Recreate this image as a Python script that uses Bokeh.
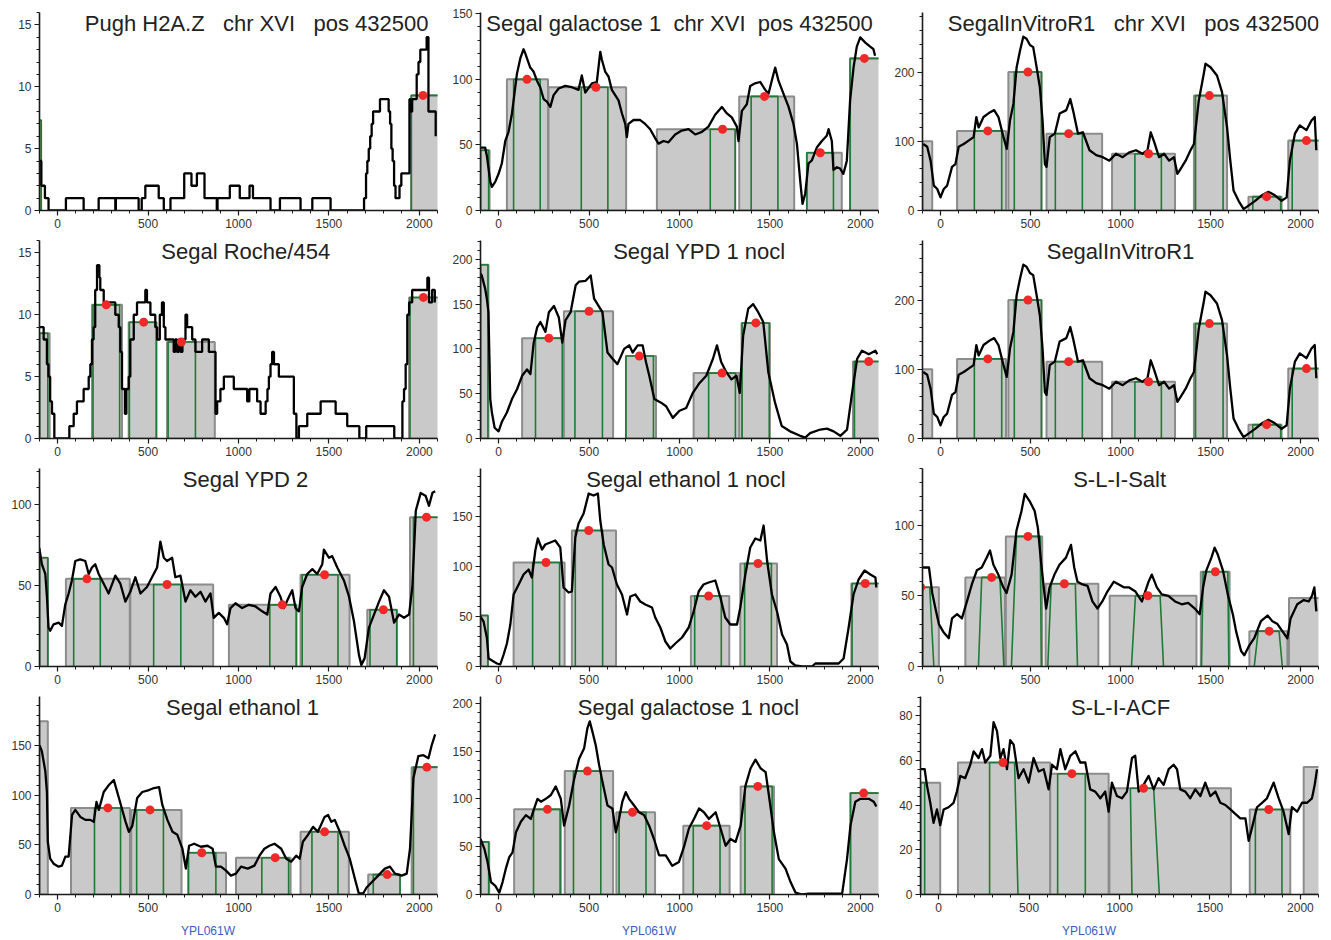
from bokeh.plotting import figure
from bokeh.models import Range1d, SingleIntervalTicker, Label, Div
from bokeh.layouts import column, row
from bokeh.embed import file_html
from bokeh.resources import INLINE

# ---------------- data ----------------
GAP = " \u00a0 "
GAP2 = " \u00a0"
TITLES = ["Pugh H2A.Z" + GAP + "chr XVI" + GAP + "pos 432500",
          "Segal galactose 1" + GAP2 + "chr XVI" + GAP2 + "pos 432500",
          "SegalInVitroR1" + GAP + "chr XVI" + GAP + "pos 432500",
          "Segal Roche/454", "Segal YPD 1 nocl", "SegalInVitroR1",
          "Segal YPD 2", "Segal ethanol 1 nocl", "S-L-I-Salt",
          "Segal ethanol 1", "Segal galactose 1 nocl", "S-L-I-ACF"]
GENE_LABEL = "YPL061W"
X_TICK_STEP = 500
Y_MAX = [16, 151, 286, 16, 221, 286, 122, 198, 140, 199, 207, 88.5]
Y_TICK_STEP = [5, 50, 100, 5, 50, 100, 50, 50, 50, 50, 50, 20]

# Pugh H2A.Z (step trace)
P1_X = [-100, -90, -70, -50, 46, 144, 227, 319, 322, 448, 465, 485, 559, 587, 624, 697, 700, 740, 770, 812,
        880, 884, 952, 1007, 1061, 1080, 1177, 1229, 1343, 1408, 1509, 1694, 1705, 1712, 1720, 1728, 1736,
        1744, 1750, 1782, 1830, 1838, 1845, 1852, 1860, 1868, 1890, 1900, 1945, 1950, 1960, 1985, 1995, 2005,
        2040, 2050, 2090]
P1_Y = [4, 2, 1, 0, 1, 0, 1, 0, 1, 0, 1, 2, 1, 0, 1, 1, 3, 2, 3, 1,
        0, 1, 2, 1, 2, 1, 0, 1, 0, 1, 0, 1, 3, 4, 5, 6, 7,
        8, 8, 9, 8, 7, 5, 4, 2, 1, 2, 3, 9, 8, 9, 11, 12, 13,
        14, 8, 6]
P1_BAR_L = [1955]; P1_BAR_R = [2110]; P1_BAR_H = [9.3]
P1_GRN_L = [-100, 1955]; P1_GRN_R = [-90, 2110]; P1_GRN_H = [7.3, 9.3]
P1_DOT_X = [2020]; P1_DOT_Y = [9.3]

# Segal galactose 1
P2_X = [-100, -74, -64, -46, -37, -18, 0, 18, 37, 55, 74, 83, 101, 120, 138, 147, 157, 175, 193, 212,
        230, 249, 267, 286, 304, 332, 368, 405, 442, 460, 479, 516, 543, 562, 571, 589, 608, 626, 663, 682,
        700, 709, 718, 746, 783, 810, 838, 866, 884, 912, 939, 976, 1013, 1050, 1087, 1124, 1160, 1197, 1234, 1262,
        1289, 1317, 1326, 1345, 1372, 1391, 1418, 1446, 1474, 1492, 1510, 1529, 1547, 1575, 1603, 1630, 1649, 1667, 1680, 1695,
        1713, 1731, 1759, 1787, 1814, 1824, 1842, 1851, 1870, 1888, 1906, 1925, 1943, 1962, 1980, 1999, 2027, 2054, 2072, 2081]
P2_Y = [48, 48, 41, 22, 18, 22, 28, 36, 53, 60, 74, 84, 104, 116, 123, 120, 116, 109, 106, 99,
        94, 85, 83, 79, 88, 93, 95, 94, 92, 103, 90, 97, 98, 121, 115, 106, 102, 92, 84, 74,
        66, 56, 66, 69, 69, 66, 62, 55, 51, 53, 52, 58, 61, 62, 58, 60, 64, 73, 79, 74,
        71, 64, 53, 76, 81, 95, 97, 98, 92, 89, 99, 109, 99, 89, 79, 66, 51, 23, 5, 13,
        36, 38, 48, 53, 57, 62, 53, 31, 33, 32, 28, 38, 84, 109, 125, 132, 128, 125, 123, 118]
P2_BAR_L = [-100, 46, 276, 875, 1330, 1704, 1943]
P2_BAR_R = [-50, 273, 705, 1308, 1634, 1897, 2110]
P2_BAR_H = [46, 100, 94, 62, 87, 44, 116]
P2_GRN_L = [-100, 83, 457, 1170, 1396, 1704, 1943]
P2_GRN_R = [-55, 230, 604, 1308, 1544, 1851, 2110]
P2_GRN_H = [46, 100, 94, 62, 87, 44, 116]
P2_DOT_X = [157, 538, 1238, 1470, 1778, 2022]
P2_DOT_Y = [100, 94, 62, 87, 44, 116]

# SegalInVitroR1 (shown twice)
P3_X = [-96, -74, -55, -37, -18, 0, 18, 37, 64, 83, 101, 129, 156, 184, 199, 212, 239, 276, 298, 322,
        350, 368, 386, 405, 423, 442, 460, 478, 497, 515, 534, 552, 567, 580, 589, 607, 635, 662, 699, 721,
        736, 764, 791, 828, 865, 902, 938, 975, 1012, 1049, 1086, 1122, 1150, 1168, 1187, 1214, 1242, 1270, 1297, 1316,
        1334, 1362, 1389, 1408, 1435, 1463, 1472, 1500, 1536, 1564, 1592, 1610, 1628, 1656, 1684, 1711, 1748, 1785, 1822, 1858,
        1895, 1923, 1941, 1969, 1996, 2033, 2061, 2079, 2088]
P3_Y = [96, 92, 72, 36, 31, 19, 31, 36, 63, 67, 92, 96, 101, 106, 135, 120, 135, 142, 145, 135,
        106, 89, 130, 154, 207, 231, 251, 248, 239, 236, 207, 178, 130, 67, 63, 106, 111, 140, 145, 161,
        145, 111, 113, 87, 80, 77, 72, 82, 77, 84, 87, 82, 87, 113, 99, 77, 82, 72, 77, 53,
        60, 72, 87, 96, 159, 198, 212, 207, 195, 171, 120, 72, 29, 14, 2, 7, 14, 22, 27, 22,
        14, 19, 72, 111, 123, 116, 130, 135, 87]
P3_BAR_L = [-100, 92, 377, 589, 953, 1408, 1711, 1932]
P3_BAR_R = [-46, 364, 561, 898, 1303, 1592, 1895, 2110]
P3_BAR_H = [100, 115, 200, 111, 82, 166, 20, 101]
P3_GRN_L = [188, 410, 638, 1080, 1417, 1735, 1954]
P3_GRN_R = [340, 561, 788, 1227, 1570, 1890, 2110]
P3_GRN_H = [115, 200, 111, 82, 166, 20, 101]
P3_DOT_X = [263, 486, 712, 1156, 1494, 1812, 2033]
P3_DOT_Y = [115, 200, 111, 82, 166, 20, 101]

# Segal Roche/454 (step trace)
P4_X = [-100, -77, -59, -50, -41, -31, -18, 65, 89, 107, 144, 172, 181, 190, 199, 208, 218, 231, 236, 255,
        319, 338, 347, 356, 372, 380, 393, 402, 421, 439, 485, 494, 513, 540, 550, 565, 577, 587, 596, 642,
        650, 660, 670, 680, 690, 707, 716, 744, 762, 799, 836, 873, 882, 900, 919, 974, 1048, 1060, 1103, 1122,
        1150, 1160, 1168, 1177, 1186, 1196, 1223, 1306, 1320, 1334, 1380, 1454, 1537, 1601, 1668, 1706, 1861, 1906, 1915, 1924,
        1933, 1943, 1960, 2044, 2053, 2070, 2085]
P4_Y = [9, 8, 6, 5, 3, 2, 0, 1, 2, 3, 4, 5, 6, 8, 9, 12, 14, 13, 12, 11,
        10, 9, 7, 4, 2, 4, 5, 8, 10, 11, 12, 11, 10, 9, 8, 10, 11, 9, 8, 7,
        8, 7, 8, 7, 8, 10, 9, 8, 7, 8, 7, 2, 3, 4, 5, 4, 3, 4, 3, 2,
        3, 4, 5, 6, 7, 6, 5, 2, 0, 1, 2, 3, 2, 1, 0, 1, 0, 3, 4, 6,
        10, 11, 12, 13, 11, 12, 11]
P4_BAR_L = [-100, 190, 393, 605, 1943]
P4_BAR_R = [-44, 356, 546, 869, 2110]
P4_BAR_H = [8.5, 10.8, 9.4, 7.8, 11.4]
P4_GRN_L = [-100, 196, 397, 611, 1948]
P4_GRN_R = [-54, 343, 546, 762, 2110]
P4_GRN_H = [8.5, 10.8, 9.4, 7.8, 11.4]
P4_DOT_X = [269, 476, 684, 2022]
P4_DOT_Y = [10.8, 9.4, 7.8, 11.4]

# Segal YPD 1 nocl
P5_X = [-100, -93, -74, -65, -56, -46, -37, -22, 0, 19, 46, 74, 102, 130, 157, 176, 194, 213, 231, 259,
        278, 306, 333, 352, 370, 398, 426, 444, 481, 509, 528, 556, 574, 602, 630, 657, 694, 722, 741, 769,
        796, 815, 833, 861, 898, 926, 963, 1000, 1037, 1074, 1111, 1148, 1185, 1207, 1231, 1259, 1287, 1315, 1333, 1352,
        1380, 1407, 1435, 1463, 1491, 1528, 1565, 1611, 1667, 1695, 1722, 1778, 1815, 1852, 1889, 1926, 1954, 1982, 2009, 2046,
        2083, 2093]
P5_Y = [184, 182, 167, 156, 141, 44, 29, 12, 8, 19, 29, 44, 55, 70, 77, 72, 107, 124, 130, 119,
        141, 148, 135, 107, 132, 141, 171, 175, 176, 182, 156, 147, 141, 96, 89, 83, 100, 104, 96, 104,
        104, 85, 70, 44, 40, 36, 23, 31, 34, 51, 62, 70, 89, 104, 85, 74, 66, 70, 51, 115,
        145, 150, 141, 130, 74, 40, 14, 8, 3, 1, 6, 10, 11, 8, 3, 10, 51, 89, 98, 94,
        98, 94]
P5_BAR_L = [-100, 130, 361, 704, 1078, 1343, 1959]
P5_BAR_R = [-56, 361, 633, 870, 1330, 1500, 2110]
P5_BAR_H = [194, 112, 142, 92, 73, 129, 86]
P5_GRN_L = [-100, 204, 422, 704, 1161, 1346, 1967]
P5_GRN_R = [-59, 352, 574, 856, 1309, 1496, 2110]
P5_GRN_H = [194, 112, 142, 92, 73, 129, 86]
P5_DOT_X = [278, 500, 778, 1235, 1422, 2046]
P5_DOT_Y = [112, 142, 92, 73, 129, 86]

# Segal YPD 2
P7_X = [-101, -87, -68, -59, -50, -41, -22, 6, 24, 42, 61, 79, 98, 125, 153, 172, 190, 208, 227, 255,
        282, 319, 347, 375, 402, 430, 458, 494, 522, 550, 568, 587, 605, 633, 651, 679, 707, 734, 762, 790,
        817, 845, 863, 891, 919, 937, 956, 983, 1020, 1057, 1094, 1131, 1159, 1177, 1205, 1232, 1251, 1279, 1297, 1315,
        1334, 1352, 1380, 1408, 1435, 1463, 1472, 1500, 1518, 1546, 1583, 1611, 1638, 1666, 1679, 1697, 1721, 1749, 1777, 1804,
        1832, 1860, 1887, 1915, 1943, 1961, 1980, 2007, 2035, 2053, 2072, 2087]
P7_Y = [73, 63, 57, 43, 24, 22, 26, 27, 25, 38, 45, 53, 65, 66, 65, 57, 61, 63, 57, 51,
        45, 56, 51, 40, 46, 55, 45, 49, 55, 61, 77, 67, 65, 67, 55, 56, 40, 47, 43, 46,
        40, 45, 30, 33, 30, 26, 36, 39, 36, 38, 37, 34, 32, 45, 49, 43, 36, 43, 47, 36,
        34, 49, 57, 60, 57, 63, 72, 67, 68, 61, 53, 43, 28, 7, 1, 5, 24, 32, 40, 47,
        43, 27, 32, 30, 32, 49, 96, 107, 105, 99, 107, 108]
P7_BAR_L = [-100, 46, 402, 947, 1343, 1712, 1948]
P7_BAR_R = [-54, 399, 860, 1321, 1614, 1875, 2110]
P7_BAR_H = [67, 54, 50.5, 38, 56.5, 35, 92]
P7_GRN_L = [-100, 89, 531, 1173, 1352, 1727, 1967]
P7_GRN_R = [-54, 236, 681, 1319, 1550, 1875, 2110]
P7_GRN_H = [67, 54, 50.5, 38, 56.5, 35, 92]
P7_DOT_X = [162, 605, 1242, 1476, 1801, 2039]
P7_DOT_Y = [54, 50.5, 38, 56.5, 35, 92]

# Segal ethanol 1 nocl
P8_X = [-101, -83, -65, -55, -37, -9, 9, 28, 46, 65, 83, 111, 138, 166, 184, 203, 217, 240, 258, 286,
        313, 341, 359, 387, 405, 424, 442, 470, 498, 525, 549, 562, 581, 608, 627, 654, 682, 710, 728, 756,
        783, 811, 848, 866, 894, 922, 949, 977, 1014, 1051, 1078, 1106, 1133, 1161, 1198, 1226, 1253, 1281, 1318, 1336,
        1364, 1391, 1419, 1447, 1465, 1484, 1511, 1539, 1567, 1594, 1613, 1640, 1677, 1732, 1751, 1880, 1907, 1935, 1962, 1990,
        2023, 2055, 2083, 2088]
P8_Y = [50, 45, 29, 8, 6, 3, 2, 12, 23, 42, 72, 82, 92, 97, 89, 116, 128, 117, 122, 124,
        126, 119, 79, 74, 75, 129, 143, 153, 173, 171, 173, 146, 122, 102, 99, 82, 72, 52, 70, 72,
        65, 62, 59, 49, 39, 25, 18, 23, 29, 39, 55, 75, 82, 84, 86, 69, 49, 42, 42, 59,
        92, 119, 128, 126, 141, 106, 72, 55, 32, 22, 5, 1, 0, 0, 3, 3, 8, 39, 72, 87,
        96, 92, 89, 79]
P8_BAR_L = [-100, 83, 405, 1063, 1336, 1950]
P8_BAR_R = [-59, 365, 649, 1275, 1539, 2110]
P8_BAR_H = [51, 104, 136, 70.5, 103, 83]
P8_GRN_L = [-100, 188, 424, 1084, 1360, 1954]
P8_GRN_R = [-59, 337, 575, 1231, 1508, 2110]
P8_GRN_H = [51, 104, 136, 70.5, 103, 83]
P8_DOT_X = [262, 498, 1161, 1434, 2027]
P8_DOT_Y = [104, 136, 70.5, 103, 83]

# S-L-I-Salt
P9_X = [-100, -64, -46, -28, -9, 18, 46, 64, 92, 119, 147, 174, 202, 229, 257, 275, 294, 321, 349, 367,
        395, 422, 450, 468, 495, 523, 541, 560, 578, 587, 606, 633, 661, 697, 725, 743, 761, 789, 817, 844,
        872, 899, 927, 963, 991, 1018, 1046, 1083, 1119, 1156, 1174, 1202, 1229, 1266, 1303, 1340, 1376, 1413, 1440, 1459,
        1477, 1505, 1523, 1541, 1569, 1596, 1624, 1642, 1670, 1688, 1716, 1743, 1780, 1817, 1844, 1872, 1899, 1927, 1945, 1982,
        2018, 2046, 2064, 2077, 2088]
P9_Y = [70, 70, 52, 41, 30, 24, 20, 34, 37, 34, 46, 58, 68, 70, 77, 82, 72, 65, 56, 52,
        65, 96, 110, 122, 117, 110, 98, 72, 51, 41, 56, 65, 72, 77, 86, 70, 60, 58, 57, 46,
        41, 46, 53, 60, 58, 56, 56, 53, 46, 60, 65, 56, 51, 50, 46, 44, 45, 41, 37, 56,
        68, 77, 84, 79, 68, 51, 37, 25, 11, 8, 15, 20, 32, 36, 32, 30, 25, 20, 34, 44,
        47, 46, 50, 56, 39]
P9_BAR_L = [-100, 138, 363, 584, 940, 1446, 1716, 1936]
P9_BAR_R = [-9, 358, 565, 877, 1422, 1606, 1927, 2110]
P9_BAR_H = [56, 63, 92, 58.5, 50, 67, 25, 48.5]
P9_GRN_L = [-100, 211, 394, 596, 1061, 1450, 1743]
P9_GRN_LT = [-100, 229, 422, 615, 1083, 1459, 1765]
P9_GRN_RT = [-60, 330, 554, 749, 1220, 1596, 1881]
P9_GRN_R = [-37, 352, 560, 761, 1239, 1602, 1899]
P9_GRN_H = [56, 63, 92, 58.5, 50, 67, 25]
P9_DOT_X = [-110, 284, 486, 688, 1152, 1527, 1826]
P9_DOT_Y = [56, 63, 92, 58.5, 50, 67, 25]

# Segal ethanol 1
P10_X = [-100, -87, -68, -59, -54, -41, -22, 6, 24, 43, 61, 80, 98, 126, 154, 181, 200, 215, 228, 255,
         283, 311, 339, 376, 394, 413, 440, 468, 505, 533, 561, 579, 607, 635, 662, 690, 709, 727, 755, 792,
         829, 857, 875, 903, 931, 958, 986, 1014, 1051, 1088, 1116, 1143, 1171, 1199, 1236, 1264, 1291, 1319, 1338, 1356,
         1384, 1412, 1439, 1476, 1495, 1513, 1532, 1560, 1587, 1615, 1643, 1665, 1689, 1708, 1735, 1772, 1809, 1837, 1865, 1902,
         1930, 1948, 1967, 1994, 2022, 2050, 2068, 2087]
P10_Y = [150, 144, 124, 103, 53, 36, 31, 28, 29, 38, 38, 80, 85, 78, 75, 75, 73, 93, 85, 103,
         110, 115, 97, 73, 63, 69, 97, 103, 105, 107, 108, 90, 75, 63, 60, 46, 26, 49, 51, 48,
         49, 46, 28, 28, 24, 19, 21, 28, 26, 29, 39, 46, 49, 51, 46, 36, 33, 39, 36, 53,
         60, 68, 63, 78, 80, 73, 75, 63, 49, 36, 16, 1, 1, 7, 12, 19, 26, 28, 21, 19,
         21, 46, 117, 139, 140, 137, 150, 161]
P10_BAR_L = [-100, 74, 407, 723, 986, 1343, 1717, 1957]
P10_BAR_R = [-54, 400, 685, 931, 1288, 1610, 1893, 2110]
P10_BAR_H = [174, 87, 85, 42, 37, 63, 20, 128]
P10_GRN_L = [204, 437, 723, 1129, 1406, 1745, 1967]
P10_GRN_R = [348, 585, 875, 1277, 1550, 1893, 2110]
P10_GRN_H = [87, 85, 42, 37, 63, 20, 128]
P10_DOT_X = [278, 511, 797, 1203, 1476, 1822, 2041]
P10_DOT_Y = [87, 85, 42, 37, 63, 20, 128]

# Segal galactose 1 nocl
P11_X = [-100, -79, -61, -42, -18, 4, 22, 40, 59, 77, 96, 123, 151, 178, 197, 215, 234, 261, 289, 316,
         344, 362, 390, 418, 445, 473, 491, 504, 519, 537, 556, 574, 602, 629, 648, 666, 684, 703, 721, 749,
         776, 804, 832, 859, 887, 924, 960, 997, 1025, 1052, 1080, 1108, 1135, 1163, 1200, 1227, 1255, 1282, 1310, 1338,
         1365, 1393, 1420, 1448, 1476, 1494, 1522, 1549, 1586, 1614, 1641, 1678, 1715, 1862, 1899, 1926, 1945, 1972, 2000, 2046,
         2074, 2088]
P11_Y = [58, 48, 34, 13, 9, 2, 13, 27, 39, 44, 65, 76, 83, 79, 90, 100, 97, 100, 104, 113,
         100, 72, 93, 121, 142, 153, 174, 181, 170, 156, 135, 118, 93, 90, 65, 79, 97, 107, 100, 93,
         86, 83, 72, 58, 41, 41, 30, 34, 50, 69, 79, 90, 86, 79, 86, 69, 51, 58, 55, 72,
         114, 132, 141, 132, 128, 104, 65, 37, 27, 13, 2, 0, 1, 1, 1, 37, 72, 97, 100, 100,
         97, 92]
P11_BAR_L = [-100, 86, 366, 651, 1021, 1338, 1945]
P11_BAR_R = [-52, 344, 633, 865, 1277, 1522, 2110]
P11_BAR_H = [55, 89, 129, 86, 72, 113, 106]
P11_GRN_L = [-100, 193, 414, 666, 1076, 1362, 1945]
P11_GRN_R = [-55, 340, 565, 815, 1224, 1512, 2110]
P11_GRN_H = [55, 89, 129, 86, 72, 113, 106]
P11_DOT_X = [270, 491, 740, 1150, 1433, 2018]
P11_DOT_Y = [89, 129, 86, 72, 113, 106]

# S-L-I-ACF
P12_X = [-100, -77, -65, -46, -28, -9, 9, 28, 55, 83, 101, 120, 147, 175, 194, 221, 240, 258, 286, 304,
         323, 341, 359, 378, 396, 415, 442, 470, 498, 525, 553, 581, 608, 627, 654, 673, 700, 728, 756, 783,
         811, 838, 866, 894, 921, 940, 958, 986, 1014, 1041, 1069, 1087, 1106, 1133, 1161, 1189, 1216, 1244, 1272, 1299,
         1318, 1336, 1364, 1391, 1419, 1447, 1474, 1502, 1530, 1557, 1585, 1613, 1640, 1668, 1696, 1714, 1733, 1760, 1788, 1815,
         1852, 1880, 1907, 1935, 1953, 1982, 2009, 2037, 2064, 2079, 2092]
P12_Y = [56, 56, 49, 41, 32, 38, 31, 38, 39, 41, 46, 53, 52, 58, 64, 61, 65, 59, 62, 77,
         73, 61, 65, 56, 69, 67, 52, 56, 50, 61, 55, 56, 47, 58, 56, 65, 56, 62, 64, 59,
         59, 47, 46, 43, 46, 37, 50, 44, 43, 46, 61, 62, 46, 49, 53, 47, 52, 49, 56, 58,
         56, 47, 46, 43, 47, 44, 50, 44, 46, 41, 40, 38, 36, 34, 34, 24, 30, 39, 41, 43,
         50, 43, 37, 27, 39, 37, 41, 41, 43, 49, 56]
P12_BAR_L = [-100, 107, 617, 944, 1720, 2018]
P12_BAR_R = [9, 617, 940, 1616, 1944, 2110]
P12_BAR_H = [50, 59, 54, 47.5, 38, 57]
P12_GRN_L = [-100, 282, 658, 1069, 1751]
P12_GRN_LT = [-100, 282, 658, 1060, 1751]
P12_GRN_RT = [-77, 420, 811, 1189, 1898]
P12_GRN_R = [-77, 439, 811, 1220, 1898]
P12_GRN_H = [50, 59, 54, 47.5, 38]
P12_DOT_X = [356, 737, 1133, 1825]
P12_DOT_Y = [59, 54, 47.5, 38]

# ---------------- panel table built from the arrays ----------------
def panel(tx, ty, step, bl, br, bh, gl, gr, gh, dx, dy, glt=None, grt=None):
    return dict(tx=tx, ty=ty, step=step, bl=bl, br=br, bh=bh, gl=gl, gr=gr, gh=gh,
                glt=glt if glt is not None else gl, grt=grt if grt is not None else gr, dx=dx, dy=dy)

PANELS = [
    panel(P1_X, P1_Y, True, P1_BAR_L, P1_BAR_R, P1_BAR_H, P1_GRN_L, P1_GRN_R, P1_GRN_H, P1_DOT_X, P1_DOT_Y),
    panel(P2_X, P2_Y, False, P2_BAR_L, P2_BAR_R, P2_BAR_H, P2_GRN_L, P2_GRN_R, P2_GRN_H, P2_DOT_X, P2_DOT_Y),
    panel(P3_X, P3_Y, False, P3_BAR_L, P3_BAR_R, P3_BAR_H, P3_GRN_L, P3_GRN_R, P3_GRN_H, P3_DOT_X, P3_DOT_Y),
    panel(P4_X, P4_Y, True, P4_BAR_L, P4_BAR_R, P4_BAR_H, P4_GRN_L, P4_GRN_R, P4_GRN_H, P4_DOT_X, P4_DOT_Y),
    panel(P5_X, P5_Y, False, P5_BAR_L, P5_BAR_R, P5_BAR_H, P5_GRN_L, P5_GRN_R, P5_GRN_H, P5_DOT_X, P5_DOT_Y),
    panel(P3_X, P3_Y, False, P3_BAR_L, P3_BAR_R, P3_BAR_H, P3_GRN_L, P3_GRN_R, P3_GRN_H, P3_DOT_X, P3_DOT_Y),
    panel(P7_X, P7_Y, False, P7_BAR_L, P7_BAR_R, P7_BAR_H, P7_GRN_L, P7_GRN_R, P7_GRN_H, P7_DOT_X, P7_DOT_Y),
    panel(P8_X, P8_Y, False, P8_BAR_L, P8_BAR_R, P8_BAR_H, P8_GRN_L, P8_GRN_R, P8_GRN_H, P8_DOT_X, P8_DOT_Y),
    panel(P9_X, P9_Y, False, P9_BAR_L, P9_BAR_R, P9_BAR_H, P9_GRN_L, P9_GRN_R, P9_GRN_H, P9_DOT_X, P9_DOT_Y,
          P9_GRN_LT, P9_GRN_RT),
    panel(P10_X, P10_Y, False, P10_BAR_L, P10_BAR_R, P10_BAR_H, P10_GRN_L, P10_GRN_R, P10_GRN_H, P10_DOT_X, P10_DOT_Y),
    panel(P11_X, P11_Y, False, P11_BAR_L, P11_BAR_R, P11_BAR_H, P11_GRN_L, P11_GRN_R, P11_GRN_H, P11_DOT_X, P11_DOT_Y),
    panel(P12_X, P12_Y, False, P12_BAR_L, P12_BAR_R, P12_BAR_H, P12_GRN_L, P12_GRN_R, P12_GRN_H, P12_DOT_X, P12_DOT_Y,
          P12_GRN_LT, P12_GRN_RT),
]

# ---------------- layout / style ----------------
FRAME_W, FRAME_H = 398, 198
COL_L = [39, 31, 29]
COL_R = [12, 13, 10]
ROW_T = [12, 6, 6, 6]
ROW_B = 24
TITLE_X = [[1100, 1000, 1072], [1040, 1110, 1000], [1040, 1035, 995], [1022, 1050, 1006]]
GENE_X = 825

AX = "#1a1a1a"
TICK_FONT = "Liberation Sans Narrow, Liberation Sans, Arial, sans-serif"
TITLE_FONT = "Liberation Sans, Arial, sans-serif"


def make_fig(i):
    r, c = divmod(i, 3)
    d = PANELS[i]
    ymax = Y_MAX[i]
    p = figure(width=COL_L[c] + FRAME_W + COL_R[c], height=ROW_T[r] + FRAME_H + ROW_B,
               x_range=Range1d(-100, 2100), y_range=Range1d(0, ymax),
               output_backend="svg", toolbar_location=None,
               min_border_left=COL_L[c], min_border_right=COL_R[c],
               min_border_top=ROW_T[r], min_border_bottom=ROW_B,
               background_fill_color="white", border_fill_color="white",
               outline_line_color=None)
    p.grid.visible = False
    p.xaxis.ticker = SingleIntervalTicker(interval=X_TICK_STEP, num_minor_ticks=5)
    p.yaxis.ticker = SingleIntervalTicker(interval=Y_TICK_STEP[i], num_minor_ticks=5)
    for ax in (p.xaxis[0], p.yaxis[0]):
        ax.axis_line_color = AX
        ax.axis_line_width = 1.6
        ax.major_tick_line_color = AX
        ax.minor_tick_line_color = AX
        ax.major_tick_line_width = 1.2
        ax.minor_tick_line_width = 1
        ax.major_tick_out = 5
        ax.major_tick_in = 0
        ax.minor_tick_out = 3
        ax.minor_tick_in = 0
        ax.major_label_text_font = TICK_FONT
        ax.major_label_text_font_size = "12px"
        ax.major_label_text_color = "#333333"
        ax.major_label_standoff = 3

    # nucleosome boxes
    p.quad(left=d["bl"], right=d["br"], bottom=0, top=d["bh"],
           fill_color="#c9c9c9", line_color="#8c8c8c", line_width=2)
    # green inner profiles
    xs = [[a, b, e, f] for a, b, e, f in zip(d["gl"], d["glt"], d["grt"], d["gr"])]
    ys = [[0, h, h, 0] for h in d["gh"]]
    p.multi_line(xs=xs, ys=ys, line_color="#1f7a34", line_width=1.6)
    # coverage trace
    if d["step"]:
        p.step(d["tx"], d["ty"], mode="after", line_color="black", line_width=2.3)
    else:
        p.line(d["tx"], d["ty"], line_color="black", line_width=2.3, line_join="round")
    # peak dots
    p.scatter(d["dx"], d["dy"], size=9, fill_color="#f02828", line_color=None)

    p.add_layout(Label(x=TITLE_X[r][c], y=ymax, text=TITLES[i], text_align="center",
                       text_baseline="top", text_font=TITLE_FONT, text_font_size="22px",
                       text_color="#222222", y_offset=2))
    return p


figs = [make_fig(i) for i in range(12)]
rows = [row(*figs[k * 3:k * 3 + 3]) for k in range(4)]

gene_divs = []
for c in range(3):
    w = COL_L[c] + FRAME_W + COL_R[c]
    cx = COL_L[c] + (GENE_X + 100) * FRAME_W / 2200.0
    html = ('<span style="display:inline-block;margin-left:%dpx;margin-top:7px;color:#3a5cc4;'
            'font-family:Liberation Sans, Arial, sans-serif;font-size:12px;line-height:12px;">%s</span>'
            % (int(round(cx - 25)), GENE_LABEL))
    gene_divs.append(Div(text=html, width=w, height=20, margin=0))
rows.append(row(*gene_divs))

layout = column(*rows)
open("out.html", "w").write(file_html(layout, INLINE))
